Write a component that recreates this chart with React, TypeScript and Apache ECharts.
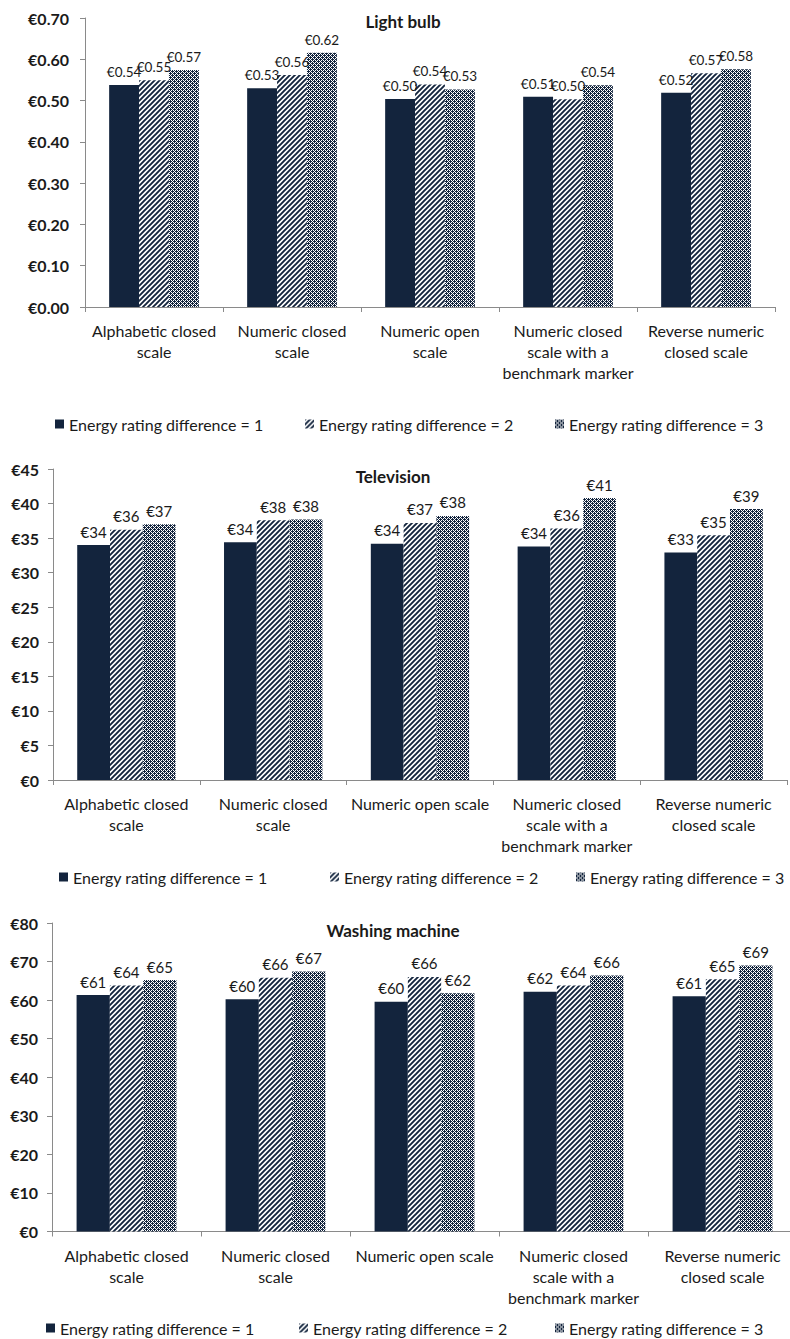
import React, { useEffect, useRef } from 'react';
import * as echarts from 'echarts';

const seriesNames = [
  'Energy rating difference = 1',
  'Energy rating difference = 2',
  'Energy rating difference = 3',
];

const lightBulbCategories = [
  'Alphabetic closed\nscale',
  'Numeric closed\nscale',
  'Numeric open\nscale',
  'Numeric closed\nscale with a\nbenchmark marker',
  'Reverse numeric\nclosed scale',
];
const applianceCategories = [
  'Alphabetic closed\nscale',
  'Numeric closed\nscale',
  'Numeric open scale',
  'Numeric closed\nscale with a\nbenchmark marker',
  'Reverse numeric\nclosed scale',
];

const chartTitles = ['Light bulb', 'Television', 'Washing machine'];

const lightBulbDiff1 = [0.538, 0.53, 0.504, 0.509, 0.519];
const lightBulbDiff2 = [0.549, 0.562, 0.539, 0.503, 0.566];
const lightBulbDiff3 = [0.574, 0.616, 0.527, 0.537, 0.576];

const televisionDiff1 = [34.0, 34.4, 34.2, 33.8, 32.9];
const televisionDiff2 = [36.2, 37.6, 37.2, 36.4, 35.4];
const televisionDiff3 = [37.0, 37.7, 38.2, 40.8, 39.2];

const washingDiff1 = [61.3, 60.2, 59.6, 62.2, 61.0];
const washingDiff2 = [63.8, 65.8, 66.0, 63.8, 65.4];
const washingDiff3 = [65.2, 67.4, 61.8, 66.4, 69.0];

// y-axis scales: [min, max, interval]
const lightBulbScale = [0, 0.7, 0.1];
const televisionScale = [0, 45, 5];
const washingScale = [0, 80, 10];

const NAVY = '#13243d';
const FONT = 'Lato, "Open Sans", sans-serif';
const TEXT = '#1a1a1a';
const AXIS = '#8a8a8a';

function makeStripe() {
  const s = 5;
  const c = document.createElement('canvas');
  c.width = s;
  c.height = s;
  const ctx = c.getContext('2d')!;
  ctx.fillStyle = '#ffffff';
  ctx.fillRect(0, 0, s, s);
  ctx.strokeStyle = NAVY;
  ctx.lineWidth = 1.9;
  ctx.beginPath();
  for (const o of [-s, 0, s]) {
    ctx.moveTo(o - 1, s + 1);
    ctx.lineTo(o + s + 1, -1);
  }
  ctx.stroke();
  return { image: c.toDataURL(), repeat: 'repeat', imageWidth: s, imageHeight: s };
}

function makeDots() {
  const s = 4;
  const c = document.createElement('canvas');
  c.width = s;
  c.height = s;
  const ctx = c.getContext('2d')!;
  ctx.fillStyle = NAVY;
  ctx.fillRect(0, 0, s, s);
  ctx.fillStyle = '#ffffff';
  const whites = [
    [1, 0],
    [3, 0],
    [1, 2],
    [3, 2],
    [0, 1],
    [2, 3],
  ];
  whites.forEach(([x, y]) => ctx.fillRect(x, y, 1, 1));
  return { image: c.toDataURL(), repeat: 'repeat', imageWidth: s, imageHeight: s };
}

export default function App() {
  const ref = useRef<HTMLDivElement>(null);

  useEffect(() => {
    document.body.style.margin = '0';
    if (!ref.current) return;
    const chart = echarts.init(ref.current, undefined, { renderer: 'svg' });

    const fills: any[] = [NAVY, makeStripe(), makeDots()];

    const grids = [
      { left: 85, top: 18, width: 690, height: 289 },
      { left: 53, top: 469, width: 734, height: 311 },
      { left: 52, top: 923, width: 745, height: 308.5 },
    ];
    const scales = [lightBulbScale, televisionScale, washingScale];
    const cats = [lightBulbCategories, applianceCategories, applianceCategories];
    const data = [
      [lightBulbDiff1, lightBulbDiff2, lightBulbDiff3],
      [televisionDiff1, televisionDiff2, televisionDiff3],
      [washingDiff1, washingDiff2, washingDiff3],
    ];
    const labelMargins = [16, 14, 14];
    const labelSizes = [13.5, 15, 15];
    const titlePos = [
      [403, 21],
      [393, 476],
      [393, 930],
    ];
    const legendTops = [424, 877, 1328];
    const legendLefts = [
      [55, 305, 555],
      [59, 330, 576],
      [46, 299, 555],
    ];

    const fmt = (i: number, v: number) =>
      i === 0 ? '€' + v.toFixed(2) : '€' + Math.round(v);

    const series: any[] = [];
    data.forEach((group, gi) => {
      group.forEach((vals, si) => {
        series.push({
          type: 'bar',
          name: seriesNames[si],
          xAxisIndex: gi,
          yAxisIndex: gi,
          data: vals,
          barGap: '0%',
          barCategoryGap: gi === 0 ? '35%' : '33%',
          itemStyle: { color: fills[si] },
          label: {
            show: true,
            position: 'top',
            distance: 6,
            formatter: (p: any) => fmt(gi, p.value),
            fontFamily: FONT,
            fontSize: labelSizes[gi],
            color: TEXT,
          },
        });
      });
    });

    const legends: any[] = [];
    legendLefts.forEach((row, gi) => {
      row.forEach((left, si) => {
        legends.push({
          data: [seriesNames[si]],
          left,
          top: legendTops[gi] - 9,
          padding: 0,
          itemWidth: 9,
          itemHeight: 9,
          icon: 'rect',
          selectedMode: false,
          textStyle: { fontFamily: FONT, fontSize: 16, color: TEXT, lineHeight: 18 },
        });
      });
    });

    chart.setOption({
      animation: false,
      backgroundColor: '#ffffff',
      title: chartTitles.map((t, i) => ({
        text: t,
        left: titlePos[i][0],
        top: titlePos[i][1],
        textAlign: 'center',
        textVerticalAlign: 'middle',
        padding: 0,
        textStyle: { fontFamily: FONT, fontSize: 17, fontWeight: 'bold', color: TEXT },
      })),
      legend: legends,
      grid: grids.map((g) => ({ ...g, outerBoundsMode: 'none', containLabel: false })),
      xAxis: cats.map((c, i) => ({
        type: 'category',
        gridIndex: i,
        data: c,
        axisLine: { lineStyle: { color: AXIS, width: 1 } },
        axisTick: { show: true, length: 5, lineStyle: { color: AXIS } },
        axisLabel: {
          interval: 0,
          margin: 13,
          fontFamily: FONT,
          fontSize: 16,
          lineHeight: 21,
          color: TEXT,
          hideOverlap: false,
        },
        splitLine: { show: false },
      })),
      yAxis: scales.map((s, i) => ({
        type: 'value',
        gridIndex: i,
        min: s[0],
        max: s[1],
        interval: s[2],
        axisLine: { show: true, lineStyle: { color: AXIS, width: 1 } },
        axisTick: { show: true, length: 5, lineStyle: { color: AXIS } },
        splitLine: { show: false },
        axisLabel: {
          margin: labelMargins[i],
          fontFamily: FONT,
          fontSize: 16,
          fontWeight: 'bold',
          color: TEXT,
          formatter: (v: number) => fmt(i, v),
        },
      })),
      series,
    });

    return () => chart.dispose();
  }, []);

  return (
    <div
      ref={ref}
      style={{ position: 'absolute', left: 0, top: 0, width: 790, height: 1339 }}
    />
  );
}
